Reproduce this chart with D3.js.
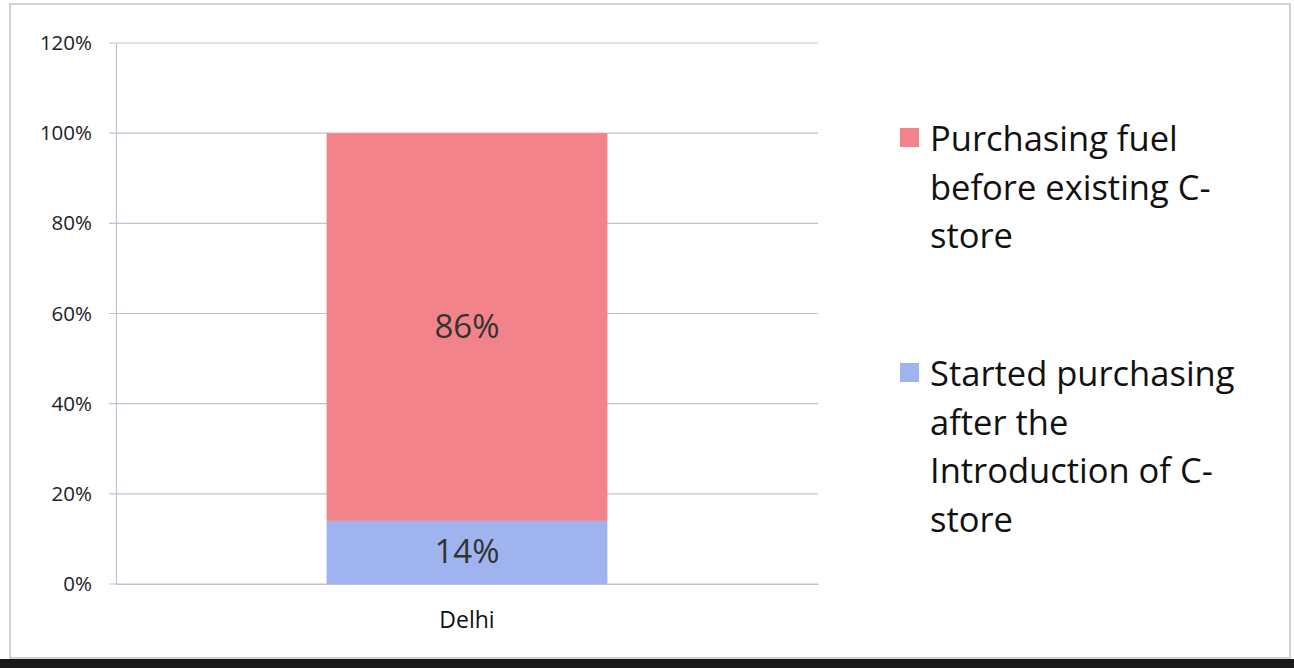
<!DOCTYPE html>
<html>
<head>
<meta charset="utf-8">
<script src="https://cdn.jsdelivr.net/npm/d3@7"></script>
<style>
  body { margin: 0; background: #fff; }
  svg { display: block; font-family: "Open Sans", sans-serif; }
</style>
</head>
<body>
<svg width="1294" height="668"></svg>
<script>
const categories = ['Delhi']
const seriesNames = ['Started purchasing after the Introduction of C-store', 'Purchasing fuel before existing C-store']
const startedAfter = [0.14]
const purchasingBefore = [0.86]
const yTicks = [0, 0.2, 0.4, 0.6, 0.8, 1.0, 1.2]
const legendLines = [
  ['Purchasing fuel', 'before existing C-', 'store'],
  ['Started purchasing', 'after the', 'Introduction of C-', 'store']
]
const colors = ['#9fb4ee', '#f3838a']

const svg = d3.select('svg')
const width = 1294
const height = 668
const plot = { left: 116, right: 818, top: 43, bottom: 584 }

// frame of the scanned chart
svg.append('rect')
  .attr('x', 10).attr('y', 4)
  .attr('width', width - 14).attr('height', 654)
  .attr('fill', 'none').attr('stroke', '#c9bfd0').attr('stroke-width', 1.5)
svg.append('rect')
  .attr('x', 0).attr('y', 659).attr('width', width).attr('height', 9)
  .attr('fill', '#1a1a1a')

const data = categories.map((c, i) => ({ category: c, after: startedAfter[i], before: purchasingBefore[i] }))
const stack = d3.stack().keys(['after', 'before'])(data)

const x = d3.scaleBand()
  .domain(categories)
  .range([plot.left, plot.right])
  .paddingInner(0.6).paddingOuter(0.3)

const y = d3.scaleLinear()
  .domain([0, 1.2])
  .range([plot.bottom, plot.top])

// gridlines
svg.append('g')
  .selectAll('line').data(yTicks)
  .enter().append('line')
    .attr('x1', plot.left - 7).attr('x2', plot.right)
    .attr('y1', d => y(d)).attr('y2', d => y(d))
    .attr('stroke', '#cbbcd3').attr('stroke-width', 1.2)

// y axis
const yAxis = svg.append('g')
  .attr('transform', `translate(${plot.left},0)`)
  .call(d3.axisLeft(y).tickValues(yTicks).tickFormat(d3.format('.0%')).tickSize(0).tickPadding(24))
  .attr('font-family', null)
yAxis.select('.domain').attr('stroke', '#cbbcd3').attr('stroke-width', 1.2)
yAxis.selectAll('text').attr('font-size', 20.5).attr('fill', '#222')

// bars
svg.append('g')
  .selectAll('g').data(stack)
  .enter().append('g')
    .attr('fill', (d, i) => colors[i])
  .selectAll('rect').data(d => d)
  .enter().append('rect')
    .attr('x', d => x(d.data.category))
    .attr('y', d => y(d[1]))
    .attr('width', x.bandwidth())
    .attr('height', d => y(d[0]) - y(d[1]))

// bar labels
svg.append('g')
  .selectAll('text').data(stack)
  .enter().append('text')
    .attr('x', d => x(d[0].data.category) + x.bandwidth() / 2)
    .attr('y', d => y((d[0][0] + d[0][1]) / 2) + 11)
    .attr('text-anchor', 'middle')
    .attr('font-size', 33)
    .attr('fill', '#333')
    .text(d => d3.format('.0%')(d[0][1] - d[0][0]))

// x axis
const xAxis = svg.append('g')
  .attr('transform', `translate(0,${plot.bottom})`)
  .call(d3.axisBottom(x).tickSize(0).tickPadding(28))
  .attr('font-family', null)
xAxis.select('.domain').attr('stroke', '#cbbcd3').attr('stroke-width', 1.2)
xAxis.selectAll('text').attr('font-size', 23).attr('fill', '#111')

// legend
const legendTop = [140, 375]
const legend = svg.append('g')
  .selectAll('g').data(legendLines)
  .enter().append('g')
    .attr('transform', (d, i) => `translate(900,${legendTop[i]})`)
legend.append('rect')
  .attr('x', 0).attr('y', -12)
  .attr('width', 19).attr('height', 19)
  .attr('fill', (d, i) => colors[1 - i])
legend.append('text')
  .attr('x', 30).attr('y', 11)
  .attr('font-size', 34.5)
  .attr('fill', '#111')
  .selectAll('tspan').data(d => d)
  .enter().append('tspan')
    .attr('x', 30)
    .attr('dy', (d, i) => i === 0 ? 0 : 48.5)
    .text(d => d)
</script>
</body>
</html>
